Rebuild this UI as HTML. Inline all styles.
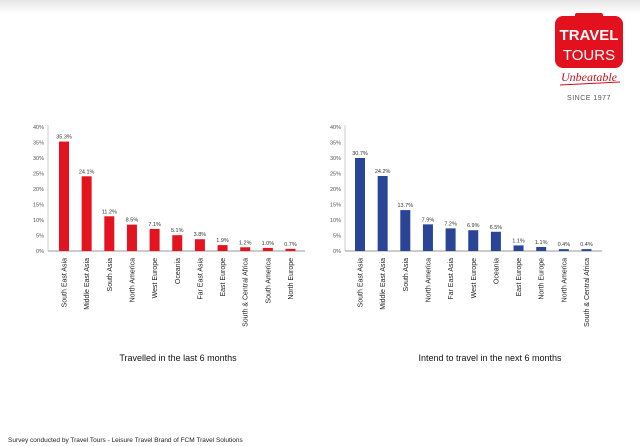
<!DOCTYPE html>
<html><head><meta charset="utf-8"><style>
body{margin:0;width:640px;height:446px;background:#fff;overflow:hidden;font-family:"Liberation Sans",sans-serif;}
svg{position:absolute;left:0;top:0}
</style></head><body>
<svg width="640" height="446" xmlns="http://www.w3.org/2000/svg">
<defs><linearGradient id="tg" x1="0" y1="0" x2="0" y2="1"><stop offset="0" stop-color="#e6e6e6"/><stop offset="1" stop-color="#fff"/></linearGradient></defs>
<rect x="0" y="0" width="640" height="14" fill="url(#tg)"/>
<g>
<rect x="555" y="16" width="68" height="52" rx="8" fill="#e3101e"/>
<rect x="575" y="13" width="28" height="6" rx="2" fill="#e3101e"/>
<text x="589" y="40" font-size="15" fill="#fff" text-anchor="middle" font-weight="bold">TRAVEL</text>
<text x="589" y="60" font-size="15" fill="#fff" text-anchor="middle">TOURS</text>
<text x="589" y="81" font-size="12" fill="#c8101e" text-anchor="middle" font-style="italic" font-family="Liberation Serif,serif">Unbeatable</text>
<line x1="560" y1="85" x2="620" y2="82" stroke="#c8101e" stroke-width="1"/>
<text x="589" y="100" font-size="7" fill="#555" text-anchor="middle" letter-spacing="0.5">SINCE 1977</text>
</g>
<g id="c1"></g>
<g id="c2"></g>
<text x="178" y="361" font-size="9" text-anchor="middle" fill="#111">Travelled in the last 6 months</text>
<text x="490" y="361" font-size="9" text-anchor="middle" fill="#111">Intend to travel in the next 6 months</text>
<text x="8" y="442" font-size="6.5" fill="#222">Survey conducted by Travel Tours - Leisure Travel Brand of FCM Travel Solutions</text>
</svg>
<script>
const leftCats=["South East Asia","Middle East Asia","South Asia","North America","West Europe","Oceania","Far East Asia","East Europe","South & Central Africa","South America","North Europe"];
const leftVals=[35.3,24.1,11.2,8.5,7.1,5.1,3.8,1.9,1.2,1.0,0.7];
const leftLabels=["35.3%","24.1%","11.2%","8.5%","7.1%","5.1%","3.8%","1.9%","1.2%","1.0%","0.7%"];
const rightCats=["South East Asia","Middle East Asia","South Asia","North America","Far East Asia","West Europe","Oceania","East Europe","North Europe","North America","South & Central Africa"];
const rightVals=[30.0,24.2,13.2,8.6,7.3,6.7,6.2,1.8,1.3,0.6,0.6];
const rightLabels=["30.7%","24.2%","13.7%","7.9%","7.2%","6.9%","6.5%","1.1%","1.1%","0.4%","0.4%"];
const yTicks=[0,5,10,15,20,25,30,35,40];
const NS="http://www.w3.org/2000/svg";
function mk(t,a,p){const e=document.createElementNS(NS,t);for(const k in a)e.setAttribute(k,a[k]);p.appendChild(e);return e;}
function draw(g,ax,x0,axEnd,cats,vals,labels,color){
  const y0=251,ppu=3.1,step=22.65;
  const y=v=>y0-v*ppu, x=i=>x0+i*step;
  mk('line',{x1:ax,y1:y0,x2:axEnd,y2:y0,stroke:'#777','stroke-width':0.7},g);
  mk('line',{x1:ax,y1:y(40)-2,x2:ax,y2:y0,stroke:'#999','stroke-width':0.5},g);
  yTicks.forEach(t=>{
    const tl=mk('text',{x:ax-4,y:y(t)+2,'font-size':5.5,fill:'#555','text-anchor':'end'},g);
    tl.textContent=t+'%';
    
    
  });
  vals.forEach((v,i)=>{
    const r=mk('rect',{x:x(i)-5,y:y(v),width:10,height:v*ppu,fill:color},g);
    
    
    const vl=mk('text',{x:x(i),y:y(v)-3,'font-size':5.5,fill:'#333','text-anchor':'middle'},g);
    vl.textContent=labels[i];
    
    
    const cl=mk('text',{x:0,y:0,'font-size':7,fill:'#222','text-anchor':'end',transform:`translate(${x(i)+2.5},${y0+7}) rotate(-90)`},g);
    cl.textContent=cats[i];
    
    
  });
}
draw(document.getElementById('c1'),48,64,305,leftCats,leftVals,leftLabels,'#e3131f');
draw(document.getElementById('c2'),345,360,602,rightCats,rightVals,rightLabels,'#2a4596');
</script>
</body></html>
